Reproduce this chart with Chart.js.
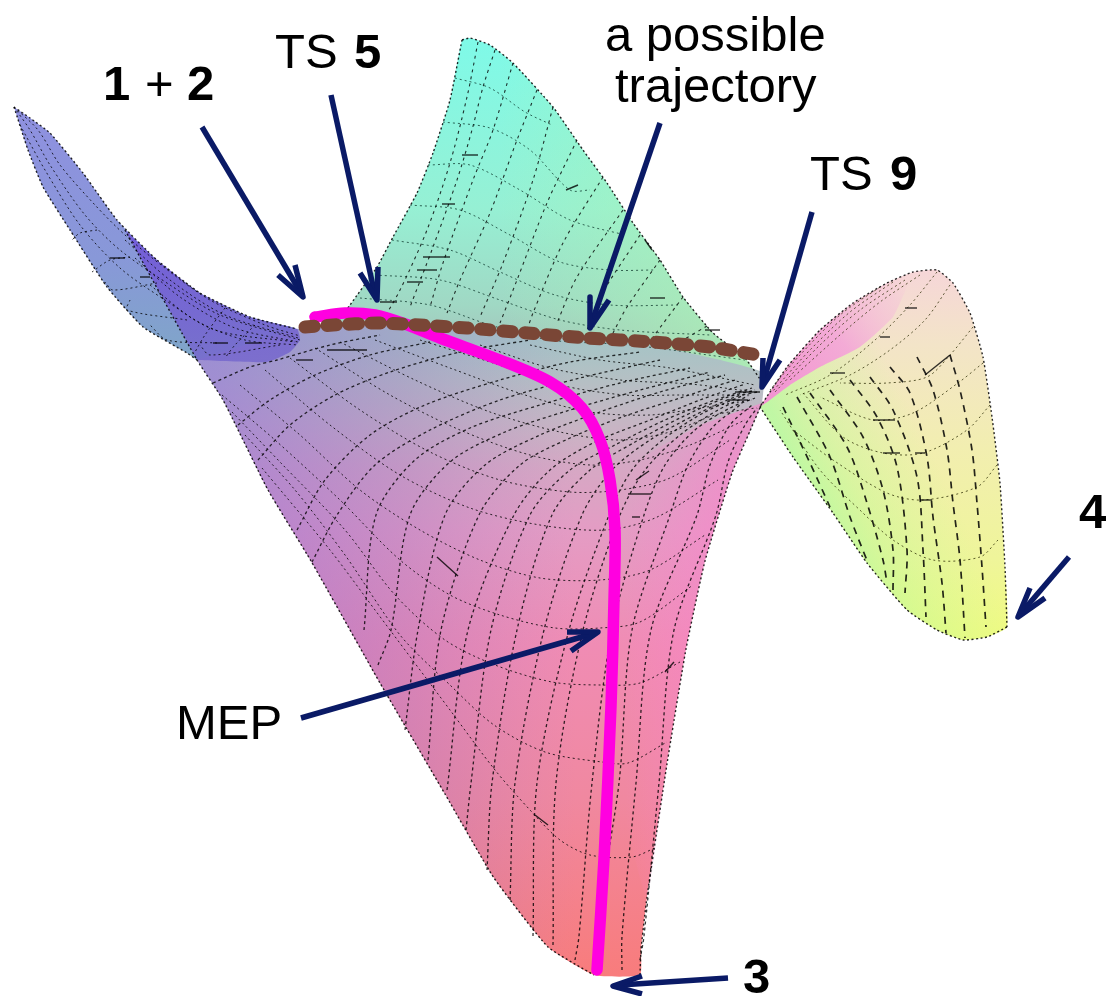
<!DOCTYPE html>
<html>
<head>
<meta charset="utf-8">
<title>Potential energy surface</title>
<script src="https://cdn.jsdelivr.net/npm/chart.js@4"></script>
<style>
  html, body { margin: 0; padding: 0; background: #fff; }
  canvas { display: block; }
</style>
</head>
<body>
<canvas id="surface" width="1106" height="996"></canvas>
<script>
// surface edges
const wingTopEdge = [[14,107],[30,118],[50,133],[83,173],[117,220],[157,260],[200,293],[250,317],[297,329]];
const wingBottomEdge = [[14,107],[28,150],[43,187],[70,230],[107,287],[143,327],[187,353],[197,360]];
const overlapEdge = [[125,230],[157,260],[200,293],[250,317],[297,329],[300,340],[290,352],[267,362],[197,360]];
const sheetLeftEdge = [[125,230],[197,360],[223,400],[268,490],[311,561],[380,683],[445,794],[494,878],[548,947],[594,975]];
const sheetBottomEdge = [[594,975],[640,975]];
const sheetRightEdge = [[640,975],[641,950],[647,897],[667,764],[686,649],[705,561],[732,473],[750,431],[762,403]];
const sheetTopEdge = [[762,372],[650,345],[500,330],[380,322],[297,329]];
const tealLeftEdge = [[462,40],[450,100],[433,153],[417,193],[393,237],[377,267],[350,305],[335,325]];
const tealRightEdge = [[462,40],[470,38],[490,45],[513,63],[553,107],[583,150],[607,183],[633,223],[660,260],[683,297],[713,333],[745,358],[764,385]];
const rightTopEdge = [[760,407],[787,367],[820,330],[853,303],[887,283],[913,272],[937,270],[953,283],[970,313],[983,357],[992,417],[1000,483],[1005,567],[1007,627]];
const rightBottomEdge = [[1007,627],[987,637],[963,640],[937,630],[907,610],[867,563],[833,513],[793,457],[760,407]];
const pinkBandInner = [[907,287],[893,317],[860,347],[820,367],[790,385],[770,400],[760,407]];
const sheetPinkBand = [[762,403],[750,431],[732,473],[705,561],[686,649],[667,764],[647,897],[622,800],[612,650],[610,520],[640,460],[700,425]];

// mesh lines on the front sheet
const sheetMeridians = [
  [[297,530],[325,480],[370,435],[425,405],[500,380],[570,362],[640,352]],
  [[312,562],[337,515],[375,465],[430,430],[500,400],[580,378],[660,360]],
  [[364,630],[376,515],[415,460],[470,428],[540,405],[620,383],[690,368]],
  [[378,665],[391,630],[410,515],[450,462],[505,432],[570,410],[640,390],[710,372]],
  [[405,730],[418,630],[445,515],[485,465],[540,435],[600,412],[660,392],[725,375]],
  [[428,760],[441,630],[479,515],[520,465],[570,438],[625,416],[680,398],[735,380]],
  [[447,790],[468,630],[514,515],[550,470],[595,442],[650,420],[700,400],[745,384]],
  [[466,830],[471,783],[491,630],[530,515],[570,470],[615,445],[665,420],[715,400],[752,388]],
  [[487,870],[492,783],[517,630],[552,515],[590,470],[635,442],[680,418],[725,398],[755,390]],
  [[510,900],[515,783],[544,630],[582,515],[612,470],[650,440],[695,415],[735,397],[757,392]],
  [[533,936],[537,783],[569,630],[609,515],[632,470],[665,438],[705,412],[742,396]],
  [[553,945],[556,783],[583,630],[620,515],[645,470],[680,435],[718,410],[748,396]],
  [[575,960],[579,936],[592,783],[612,630],[644,515],[665,465],[695,430],[730,408],[755,398]],
  [[600,970],[596,936],[619,783],[632,630],[670,515],[688,465],[712,428],[740,405]],
  [[622,970],[622,936],[636,783],[651,630],[697,515],[710,465],[730,425],[752,405]],
  [[640,960],[644,936],[659,783],[674,630],[716,515],[728,462],[745,425],[757,408]],
  [[258,460],[290,425],[335,395],[390,372],[460,352],[530,340]],
  [[238,425],[270,400],[315,375],[370,355],[430,342]],
  [[213,383],[250,367],[277,360],[330,345],[380,335]]
];
const sheetArcs = [
  [[262,468],[330,550],[375,610],[450,710],[495,770],[530,810],[560,840],[590,855],[632,857],[655,848]],
  [[245,435],[295,490],[345,555],[400,635],[450,685],[494,725],[545,752],[602,762],[628,763],[667,742]],
  [[232,412],[280,462],[345,530],[395,595],[445,640],[495,665],[552,682],[600,685],[640,683],[680,662]],
  [[222,395],[275,440],[340,500],[400,560],[450,595],[500,615],[555,628],[600,628],[640,622],[693,585]],
  [[240,385],[300,435],[360,490],[420,530],[480,560],[540,578],[600,580],[650,570],[705,535]],
  [[265,370],[330,425],[400,475],[470,508],[540,525],[605,530],[655,518],[718,480]],
  [[290,358],[360,410],[430,452],[500,480],[570,492],[620,490],[670,478],[730,440]],
  [[315,348],[390,395],[460,430],[530,455],[590,465],[640,460],[690,445],[745,420]],
  [[340,342],[415,380],[490,412],[560,432],[620,440],[670,432],[715,415],[755,408]],
  [[375,340],[450,368],[525,395],[590,412],[650,415],[700,408],[752,400]],
  [[420,340],[490,362],[560,385],[625,395],[680,395],[750,395]],
  [[480,345],[550,368],[620,380],[690,384],[755,392]],
  [[530,345],[600,360],[670,368],[755,385]]
];

// mesh lines on the teal back
const tealMeridians = [
  [[478,42],[467,97],[450,163],[427,230],[400,290],[380,325]],
  [[495,50],[483,87],[472,130],[457,180],[433,247],[410,307]],
  [[513,63],[493,130],[473,180],[443,263],[430,307]],
  [[537,90],[517,140],[490,213],[460,280],[447,313]],
  [[553,107],[533,180],[503,263],[480,317]],
  [[577,140],[547,203],[517,280],[500,323]],
  [[603,177],[563,243],[533,313],[527,330]],
  [[623,210],[577,277],[557,323]],
  [[640,235],[600,297],[587,330]],
  [[660,260],[627,307],[613,333]],
  [[683,297],[653,337]],
  [[707,326],[683,340]]
];
const tealArcs = [
  [[455,78],[490,88],[525,112],[552,125]],
  [[443,122],[490,128],[530,150],[570,190],[590,190]],
  [[428,165],[470,165],[520,190],[570,220],[625,235]],
  [[410,205],[460,210],[510,235],[560,262],[610,270],[655,270]],
  [[392,240],[450,250],[500,272],[555,295],[610,305],[680,305]],
  [[375,275],[440,280],[500,300],[560,320],[620,330],[710,335]],
  [[360,298],[430,305],[490,325],[550,340],[630,345],[745,360]]
];

// mesh lines on the left wing
const wingLongLines = [
  [[14,107],[38,130],[60,165],[95,205],[125,235],[165,268],[210,300],[265,325],[300,336]],
  [[14,107],[30,130],[50,165],[85,215],[120,250],[170,285],[220,315],[300,340]],
  [[20,125],[45,170],[80,225],[120,268],[165,300],[215,330],[295,342]],
  [[125,240],[170,280],[225,315],[298,338]],
  [[135,258],[180,297],[235,328],[298,342]],
  [[150,285],[195,320],[245,340],[298,345]]
];
const wingCrossLines = [
  [[97,230],[80,233],[72,240]],
  [[130,257],[110,260],[92,272]],
  [[157,283],[113,290],[105,282]],
  [[187,320],[127,310],[130,300]],
  [[217,343],[167,340],[150,325]],
  [[280,345],[210,355],[200,345]],
  [[255,325],[235,345],[225,358]],
  [[225,308],[205,335],[195,352]]
];

// mesh lines on the right lobe
const rightMeridians = [
  [[917,357],[933,390],[947,450],[953,503],[960,560],[965,638]],
  [[950,355],[960,390],[972,450],[977,503],[982,567],[986,627]],
  [[890,367],[910,393],[927,457],[933,517],[942,583],[946,633]],
  [[870,377],[893,410],[917,477],[923,550],[926,617]],
  [[850,380],[877,417],[897,467],[907,550],[905,593]],
  [[830,390],[863,437],[883,490],[893,550],[893,590]],
  [[810,393],[847,447],[867,503],[883,560],[887,583]],
  [[797,397],[830,457],[850,517],[868,563]],
  [[783,407],[810,463],[830,507]]
];
const rightArcs = [
  [[937,272],[910,305],[875,340],[830,375],[785,395]],
  [[950,285],[925,320],[890,350],[850,375],[800,395]],
  [[973,327],[950,355],[927,377],[887,383],[840,383]],
  [[983,363],[958,383],[913,413],[873,420],[820,397]],
  [[990,405],[967,430],[923,453],[883,453],[843,437],[803,393]],
  [[997,465],[977,487],[923,500],[887,493],[833,460],[793,430]],
  [[998,540],[980,557],[933,560],[893,540],[863,513],[820,470],[780,410]],
  [[880,287],[840,315],[800,355],[770,390]],
  [[905,280],[860,310],[820,345],[775,392]],
  [[920,275],[880,302],[840,335],[790,380]],
  [[893,282],[850,312],[810,350],[772,392]]
];

// short solid strokes that show through the mesh
const meshTicks = [
  [[423,257],[450,257]],[[417,270],[437,270]],[[407,282],[423,282]],[[380,302],[397,302]],
  [[327,350],[367,350]],[[296,360],[313,360]],[[245,343],[262,343]],[[213,343],[228,343]],
  [[125,258],[110,258]],[[140,277],[150,277]],[[478,155],[462,155]],[[455,204],[442,204]],
  [[566,190],[578,185]],[[650,298],[665,298]],[[652,250],[645,240]],[[705,330],[720,330]],
  [[735,392],[760,392]],[[728,400],[748,400]],[[873,420],[895,420]],[[883,453],[900,453]],
  [[915,453],[925,453]],[[920,500],[932,500]],[[905,308],[917,308]],[[880,337],[890,337]],
  [[830,373],[845,373]],[[925,375],[950,355]],[[628,494],[651,494]],[[649,471],[636,480]],
  [[535,815],[548,825]],[[437,557],[458,576]],[[665,672],[674,662]],[[632,517],[640,517]]
];

// marked paths
const mepPath = [[315,317],[345,313],[375,315],[405,324],[440,338],[500,360],[550,382],[582,408],[600,440],[610,480],[615,530],[614,600],[611,706],[604,859],[597,970]];
const trajectoryPath = [[305,327],[333,325],[377,323],[420,325],[467,328],[527,333],[587,338],[653,342],[710,347],[758,355]];

// arrows
const arrowShafts = [
  [[202,127],[301,293]],[[331,95],[375,295]],[[660,123],[592,322]],[[812,212],[764,380]],
  [[301,718],[592,634]],[[728,978],[620,985]],[[1069,557],[1022,612]]
];
const arrowHeads = [
  [[295,265],[303,297],[278,275]],[[378,267],[377,300],[360,273]],[[590,297],[590,328],[609,300]],
  [[763,358],[762,387],[780,360]],[[567,632],[598,632],[571,651]],[[642,976],[613,986],[642,994]],
  [[1030,588],[1018,617],[1045,598]]
];

// labels: text, left x, baseline y, weight
const labelTexts = ["1", "+", "2", "TS ", "5", "a possible", "trajectory", "TS ", "9", "MEP", "3", "4"];
const labelX = [103, 145, 187, 275, 354, 605, 615, 810, 890, 176, 743, 1079];
const labelY = [100, 100, 100, 68, 68, 51, 102, 190, 190, 739, 993, 528];
const labelBold = [true, false, true, false, true, false, false, false, true, false, true, true];

// colour stops
const sheetStops = [[0,"#a5c4c6"],[0.06,"#b4c0c4"],[0.13,"#c6b6c4"],[0.2,"#d6a8c4"],[0.3,"#e49cc4"],[0.48,"#f08cb4"],[0.72,"#f088a0"],[1,"#f87c7c"]];
const sheetPurpleStops = [[0,"rgba(148,112,218,0.62)"],[0.45,"rgba(150,110,200,0.3)"],[0.85,"rgba(160,120,200,0)"],[1,"rgba(160,120,200,0)"]];
const sheetPinkStops = [[0,"rgba(252,130,205,0)"],[1,"rgba(252,130,205,0.6)"]];
const wingStops = [[0,"#8f90e0"],[0.6,"#8898d8"],[1,"#7fa6c8"]];
const overlapStops = [[0,"rgba(112,84,216,0.85)"],[1,"rgba(118,104,205,0.85)"]];
const tealStops = [[0,"#7ffae8"],[0.55,"#96f0d4"],[0.87,"#a0d8c4"],[1,"#a4c4bc"]];
const tealGreenStops = [[0,"rgba(170,245,180,0)"],[1,"rgba(175,245,180,0.8)"]];
const rightStops = [[0,"#f6d6d8"],[0.2,"#f3e4c8"],[0.48,"#f2eeb0"],[0.78,"#eff59a"],[1,"#f0fb80"]];
const rightGreenStops = [[0,"rgba(180,250,160,0.8)"],[0.35,"rgba(190,250,150,0.45)"],[1,"rgba(200,250,150,0)"]];
const pinkBandStops = [[0,"rgba(245,140,212,0.95)"],[0.5,"rgba(245,160,218,0.85)"],[0.85,"rgba(245,190,218,0.45)"],[1,"rgba(245,200,215,0)"]];

const navy = "#0a1a66";

function pts(list) {
  return list.map((p) => ({ x: p[0], y: p[1] }));
}

// scriptable fill, goes through the chart's scales
function gradient(x0, y0, x1, y1, stops) {
  return (context) => {
    const chart = context.chart;
    if (!chart.chartArea) return "transparent"; // not laid out yet
    const { x, y } = chart.scales;
    const g = chart.ctx.createLinearGradient(
      x.getPixelForValue(x0), y.getPixelForValue(y0),
      x.getPixelForValue(x1), y.getPixelForValue(y1));
    stops.forEach((s) => g.addColorStop(s[0], s[1]));
    return g;
  };
}

const datasets = [];

function addFill(points, fill) {
  datasets.push({
    data: pts(points), showLine: true, fill: "shape", backgroundColor: fill,
    borderColor: "transparent", borderWidth: 0, pointRadius: 0, tension: 0.15,
  });
}

function addLine(points, color, width, dash, tension, cap) {
  datasets.push({
    data: pts(points), showLine: true, fill: false, borderColor: color, borderWidth: width,
    borderDash: dash, pointRadius: 0, tension: tension, borderCapStyle: cap || "butt",
    borderJoinStyle: "round",
  });
}

const meshColor = "rgba(0,0,0,0.8)";

// fills, back to front
const tealOutline = tealLeftEdge.slice().reverse().concat(tealRightEdge.slice(1), [[764,385],[335,345]]);
addFill(tealOutline, gradient(0, 40, 0, 345, tealStops));
addFill(tealOutline, gradient(500, 0, 760, 0, tealGreenStops));
addFill(wingTopEdge.concat([[300,340],[197,360]], wingBottomEdge.slice().reverse()), gradient(0, 107, 0, 360, wingStops));
const sheetOutline = sheetLeftEdge.slice(1).concat(sheetBottomEdge.slice(1), sheetRightEdge.slice(1), sheetTopEdge);
addFill(sheetOutline, gradient(0, 340, 0, 976, sheetStops));
addFill(sheetOutline, gradient(215, 0, 640, 0, sheetPurpleStops));
addFill(sheetPinkBand, gradient(625, 0, 735, 0, sheetPinkStops));
addFill(overlapEdge, gradient(0, 235, 0, 362, overlapStops));
const rightOutline = rightTopEdge.concat(rightBottomEdge.slice(1));
addFill(rightOutline, gradient(0, 270, 0, 640, rightStops));
addFill(rightOutline, gradient(790, 450, 905, 395, rightGreenStops));
addFill(rightTopEdge.slice(0, 6).concat(pinkBandInner), gradient(765, 400, 915, 280, pinkBandStops));

// mesh
sheetMeridians.forEach((l) => addLine(l, meshColor, 1.3, [3, 3], 0.3));
sheetArcs.forEach((l) => addLine(l, meshColor, 1, [2, 3], 0.3));
tealMeridians.forEach((l) => addLine(l, meshColor, 1.1, [3, 4], 0.3));
tealArcs.forEach((l) => addLine(l, "rgba(0,40,30,0.7)", 1, [2, 3], 0.3));
wingLongLines.forEach((l) => addLine(l, meshColor, 1, [2, 3], 0.3));
wingCrossLines.forEach((l) => addLine(l, meshColor, 1, [2, 3], 0.3));
rightMeridians.forEach((l) => addLine(l, "rgba(0,0,0,0.85)", 1.7, [7, 6], 0.3));
rightArcs.forEach((l) => addLine(l, "rgba(40,40,0,0.75)", 1, [2, 3], 0.3));
meshTicks.forEach((l) => addLine(l, "rgba(0,0,0,0.8)", 1.4, [], 0));

// dotted borders of the surface
[wingTopEdge, wingBottomEdge, sheetLeftEdge, sheetRightEdge, tealLeftEdge, tealRightEdge, rightTopEdge, rightBottomEdge].forEach((l) => {
  addLine(l, "rgba(0,0,0,0.85)", 1.4, [2, 2.5], 0.15);
});

// marked paths
addLine(mepPath, "#ff00e0", 11.5, [], 0.3, "round");
addLine(trajectoryPath, "#7a4636", 13, [9.5, 12.5], 0.2, "round");

// arrows
arrowShafts.forEach((l) => addLine(l, navy, 5.5, [], 0));
arrowHeads.forEach((l) => addLine(l, navy, 5.5, [], 0));

// later datasets on top
datasets.forEach((d, i) => { d.order = -i; });

const labelPlugin = {
  id: "labels",
  afterDraw(chart) {
    const { ctx, scales } = chart;
    ctx.save();
    ctx.fillStyle = "#000";
    ctx.textBaseline = "alphabetic";
    labelTexts.forEach((t, i) => {
      ctx.font = (labelBold[i] ? "bold " : "") + "49px 'Liberation Sans', Arial, sans-serif";
      ctx.fillText(t, scales.x.getPixelForValue(labelX[i]), scales.y.getPixelForValue(labelY[i]));
    });
    ctx.restore();
  },
};

new Chart(document.getElementById("surface").getContext("2d"), {
  type: "scatter",
  data: { datasets: datasets },
  options: {
    responsive: false,
    animation: false,
    layout: { padding: 0 },
    plugins: { legend: { display: false }, tooltip: { enabled: false } },
    scales: {
      x: { type: "linear", min: 0, max: 1106, display: false },
      y: { type: "linear", min: 0, max: 996, reverse: true, display: false },
    },
  },
  plugins: [labelPlugin],
});
</script>
</body>
</html>
